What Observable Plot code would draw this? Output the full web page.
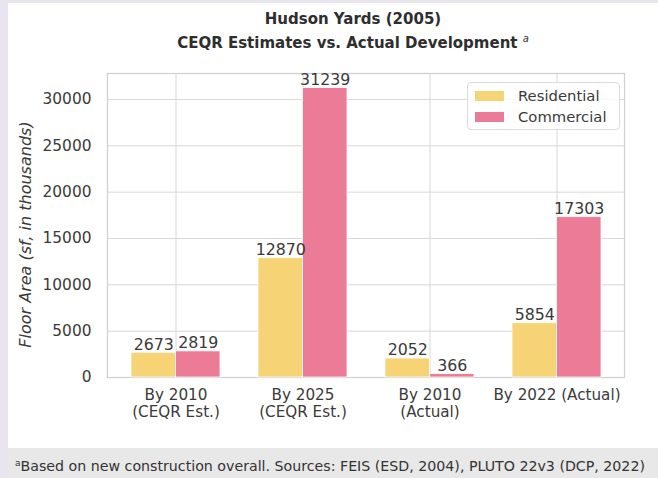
<!DOCTYPE html>
<html><head><meta charset="utf-8">
<script src="https://cdn.jsdelivr.net/npm/d3@7"></script>
<script src="https://cdn.jsdelivr.net/npm/@observablehq/plot@0.6"></script>
<style>
body{margin:0;background:#e8e4f0;width:658px;height:478px;overflow:hidden;font-family:"DejaVu Sans",sans-serif;position:relative;}
#card{position:absolute;left:8px;top:3px;width:650px;height:445px;background:#fff;}
.title{position:absolute;left:345px;transform:translateX(-50%);white-space:nowrap;font-weight:bold;font-size:15px;color:#2e2e2e;line-height:1;}
.title sup{font-weight:normal;font-style:italic;font-size:10px;vertical-align:6px;}
#chart{position:absolute;left:0;top:55px;}
#legend{position:absolute;left:459px;top:79px;width:151px;height:46px;border:1px solid #dcdcdc;border-radius:4px;background:rgba(255,255,255,0.85);font-size:14.8px;color:#3a3a3a;}
#legend .row{position:absolute;left:7px;display:flex;align-items:center;white-space:nowrap;}
#legend .sw{width:29px;height:10px;margin-right:14px;}
#caption{position:absolute;left:8px;top:448px;width:648px;height:30px;background:#e8e8e8;font-size:14.2px;color:#333;line-height:30px;padding-left:7px;box-sizing:border-box;white-space:nowrap;}
#caption sup{font-size:9px;vertical-align:5px;}
</style>
</head><body>
<div id="card">
  <div class="title" style="top:9px">Hudson Yards (2005)</div>
  <div class="title" style="top:31px">CEQR Estimates vs. Actual Development <sup>a</sup></div>
  <div id="chart"></div>
  <div id="legend"></div>
</div>
<div id="caption"><sup>a</sup>Based on new construction overall. Sources: FEIS (ESD, 2004), PLUTO 22v3 (DCP, 2022)</div>
<script>
const categories = ["By 2010\n(CEQR Est.)", "By 2025\n(CEQR Est.)", "By 2010\n(Actual)", "By 2022 (Actual)"];
const seriesNames = ["Residential", "Commercial"];
const residential = [2673, 12870, 2052, 5854];
const commercial = [2819, 31239, 366, 17303];
const seriesColors = ["#f6d374", "#ec7b97"];
const yTicks = [0, 5000, 10000, 15000, 20000, 25000, 30000];
const yLabel = "Floor Area (sf, in thousands)";

const resRows = categories.map((c, i) => ({category: c, series: seriesNames[0], value: residential[i]}));
const comRows = categories.map((c, i) => ({category: c, series: seriesNames[1], value: commercial[i]}));

const half = 44.45;
const chart = Plot.plot({
  width: 650,
  height: 390,
  marginLeft: 99,
  marginRight: 34,
  marginTop: 15,
  marginBottom: 71,
  style: {fontFamily: "DejaVu Sans, sans-serif", background: "transparent"},
  x: {type: "band", domain: categories, paddingInner: 0.3, paddingOuter: 0.185},
  y: {domain: [0, 32800]},
  color: {domain: seriesNames, range: seriesColors},
  marks: [
    Plot.gridX({stroke: "#d8d8d8", strokeOpacity: 1}),
    Plot.gridY(yTicks, {stroke: "#d8d8d8", strokeOpacity: 1}),
    Plot.frame({stroke: "#cfcfcf", strokeWidth: 1.2}),
    Plot.barY(resRows, {x: "category", y: "value", fill: "series", insetRight: half, stroke: "#fff", strokeWidth: 0.8}),
    Plot.barY(comRows, {x: "category", y: "value", fill: "series", insetLeft: half, stroke: "#fff", strokeWidth: 0.8}),
    Plot.text(resRows, {x: "category", y: "value", text: d => String(d.value), dx: -half / 2, dy: -3, lineAnchor: "bottom", fontSize: 15.8, fill: "#3a3a3a"}),
    Plot.text(comRows, {x: "category", y: "value", text: d => String(d.value), dx: half / 2, dy: -3, lineAnchor: "bottom", fontSize: 15.8, fill: "#3a3a3a"}),
    Plot.axisY(yTicks, {tickSize: 0, tickPadding: 16, fontSize: 15.4, fill: "#3a3a3a", label: null, tickFormat: d => String(d)}),
    Plot.axisX({tickSize: 0, tickPadding: 10, fontSize: 15.2, fill: "#3a3a3a", label: null, lineHeight: 1.12}),
    Plot.text([yLabel], {text: d => d, frameAnchor: "left", textAnchor: "middle", dx: -82, dy: 9, rotate: -90, fontSize: 16, fontStyle: "italic", fill: "#3a3a3a"})
  ]
});
document.getElementById("chart").appendChild(chart);

const legend = document.getElementById("legend");
seriesNames.forEach((s, i) => {
  const row = document.createElement("div");
  row.className = "row";
  row.style.top = (i === 0 ? 4 : 25) + "px";
  const sw = document.createElement("div");
  sw.className = "sw";
  sw.style.background = seriesColors[i];
  const t = document.createElement("span");
  t.textContent = s;
  row.appendChild(sw); row.appendChild(t);
  legend.appendChild(row);
});
</script>
</body></html>
